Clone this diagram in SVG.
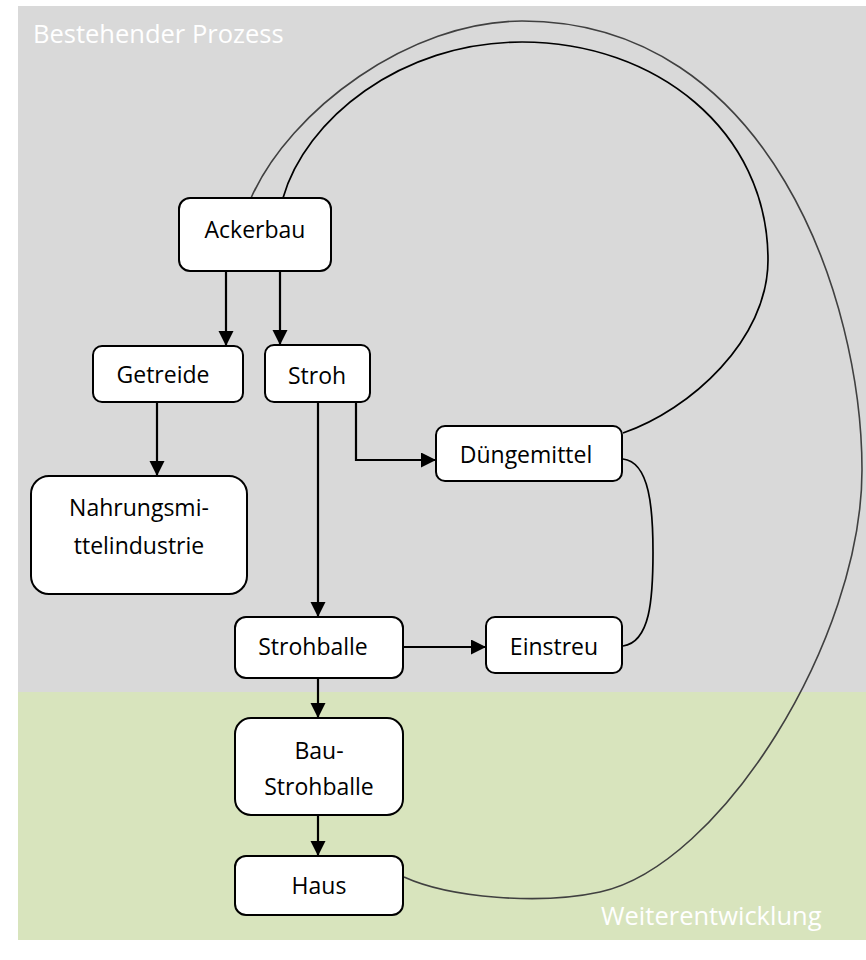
<svg xmlns="http://www.w3.org/2000/svg" width="866" height="960" viewBox="0 0 866 960">
<defs>
<style>
.box{fill:#fff;stroke:#000;stroke-width:2}
.t{font-family:"Open Sans","Liberation Sans",sans-serif;font-size:23px;fill:#000;text-anchor:middle}
.lbl{font-family:"Open Sans","Liberation Sans",sans-serif;font-size:25.5px;fill:#fff}
.arr{fill:none;stroke:#000;stroke-width:2.2;marker-end:url(#ah)}
.crv{fill:none;stroke:#000;stroke-width:1.7}
.crv2{fill:none;stroke:#404040;stroke-width:1.6}
</style>
<marker id="ah" markerUnits="userSpaceOnUse" markerWidth="16" markerHeight="16" refX="15" refY="7.5" orient="auto">
<path d="M0,0 L15,7.5 L0,15 z" fill="#000"/>
</marker>
</defs>
<rect x="0" y="0" width="866" height="960" fill="#fff"/>
<g id="regions">
<rect x="18" y="6" width="848" height="686" fill="#d9d9d9"/>
<rect x="18" y="692" width="848" height="248" fill="#d8e4bd"/>
<text class="lbl" x="33" y="43">Bestehender Prozess</text>
<text class="lbl" x="601" y="925">Weiterentwicklung</text>
</g>
<g id="connectors">
<path class="crv2" d="M404,877 C450,898 540,905 600,892 C720,866 862,640 862,470 C862,300 770,21 522,21 C410,21 290,110 251,198"/>
<path class="crv" d="M283,198 C305,120 400,42 522,42 C655,42 768,130 768,260 C768,340 690,410 623,433"/>
<path class="crv" d="M623,459 C650,462 653,510 653,552 C653,600 650,642 623,646"/>
<path class="arr" d="M226,271 L226,346"/>
<path class="arr" d="M280,271 L280,345"/>
<path class="arr" d="M157,402 L157,476"/>
<path class="arr" d="M318,402 L318,617"/>
<path class="arr" d="M356,402 L356,460 L436,460"/>
<path class="arr" d="M403,647 L486,647"/>
<path class="arr" d="M318,678 L318,718"/>
<path class="arr" d="M318,815 L318,856"/>
</g>
<g id="ackerbau">
<rect class="box" x="179" y="198" width="152" height="73" rx="11"/>
<text class="t" x="255" y="238">Ackerbau</text>
</g>
<g id="getreide">
<rect class="box" x="93" y="346" width="150" height="56" rx="9"/>
<text class="t" x="163" y="383">Getreide</text>
</g>
<g id="stroh">
<rect class="box" x="265" y="345" width="105" height="57" rx="9"/>
<text class="t" x="317" y="384">Stroh</text>
</g>
<g id="nahrung">
<rect class="box" x="31" y="476" width="216" height="118" rx="18"/>
<text class="t" x="139" y="516">Nahrungsmi-</text>
<text class="t" x="139" y="554">ttelindustrie</text>
</g>
<g id="duengemittel">
<rect class="box" x="436" y="426" width="186" height="55" rx="9"/>
<text class="t" x="526" y="463">Düngemittel</text>
</g>
<g id="strohballe">
<rect class="box" x="235" y="617" width="168" height="61" rx="11"/>
<text class="t" x="313" y="655">Strohballe</text>
</g>
<g id="einstreu">
<rect class="box" x="486" y="617" width="136" height="56" rx="9"/>
<text class="t" x="554" y="655">Einstreu</text>
</g>
<g id="baustrohballe">
<rect class="box" x="235" y="718" width="168" height="97" rx="16"/>
<text class="t" x="319" y="759">Bau-</text>
<text class="t" x="319" y="795">Strohballe</text>
</g>
<g id="haus">
<rect class="box" x="235" y="856" width="168" height="59" rx="11"/>
<text class="t" x="319" y="894">Haus</text>
</g>
</svg>
